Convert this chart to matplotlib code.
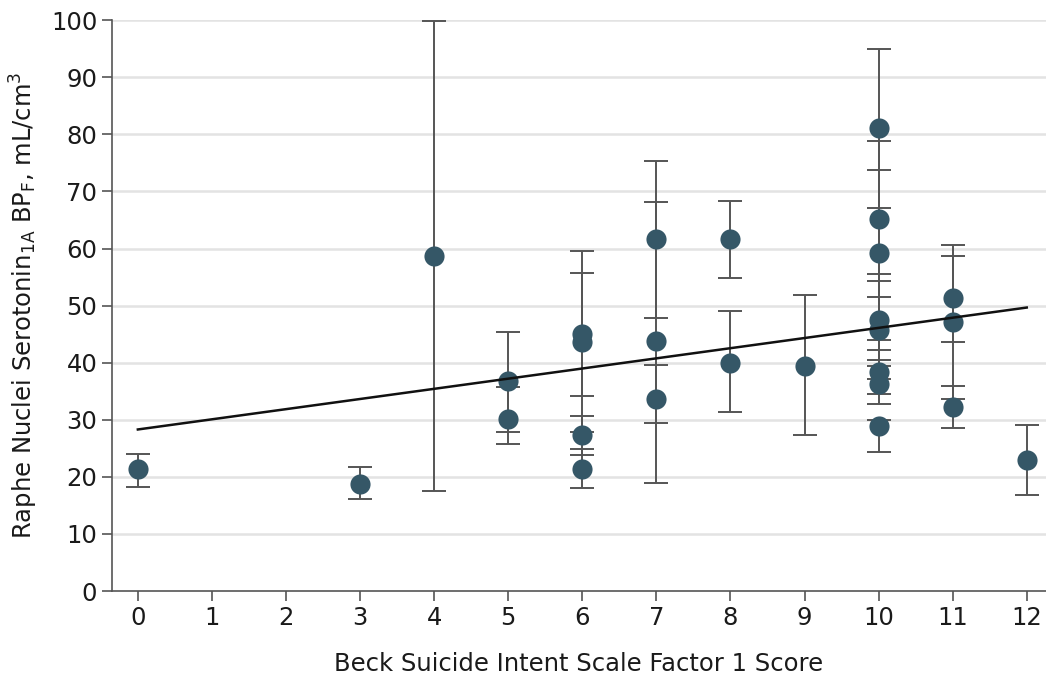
import numpy as np
import matplotlib
matplotlib.use("Agg")
import matplotlib.pyplot as plt

# Beck suicide intent score, raphe BPF and interval bounds
scores = [0, 3, 4, 5, 5, 6, 6, 6, 6, 7, 7, 7, 8, 8, 9,
          10, 10, 10, 10, 10, 10, 10, 10, 11, 11, 11, 12]
bpf = [21.3, 18.7, 58.7, 36.8, 30.2, 45.0, 43.7, 27.4, 21.3, 61.6, 43.8, 33.6, 61.7, 40.0, 39.4,
       81.1, 65.1, 59.2, 47.5, 45.7, 38.4, 36.3, 28.9, 51.3, 47.2, 32.3, 22.9]
lower = [18.3, 16.1, 17.5, 27.9, 25.8, 34.2, 27.8, 23.8, 18.1, 47.9, 18.9, 29.4, 54.8, 31.3, 27.3,
         67.1, 51.5, 44.0, 39.5, 37.1, 34.6, 32.7, 24.4, 43.6, 33.7, 28.6, 16.8]
upper = [24.0, 21.8, 99.8, 45.4, 35.8, 55.7, 59.6, 30.7, 24.8, 75.3, 68.2, 39.6, 68.4, 49.0, 51.8,
         94.9, 78.9, 73.7, 55.5, 54.3, 42.2, 40.5, 30.0, 58.7, 60.7, 35.9, 29.0]

# fitted regression line as drawn
fit_intercept = 28.3
fit_slope = 1.78

x = np.array(scores)
y = np.array(bpf)
yerr = np.vstack([y - np.array(lower), np.array(upper) - y])

plt.rcParams['font.family'] = ['DejaVu Sans']

fig = plt.figure(figsize=(10.46, 6.82), dpi=100)
ax = fig.add_axes([0.107, 0.1334, 0.893, 0.837])

ax.errorbar(x, y, yerr=yerr, fmt='none', ecolor='#555555', elinewidth=1.4,
            capsize=8.3, capthick=1.4, zorder=2)
ax.plot(x, y, 'o', color='#355767', markersize=14.5, markeredgewidth=0, zorder=3)

xl = np.array([0, 12])
ax.plot(xl, fit_intercept + fit_slope * xl, color='#111111', lw=1.8, zorder=4)

ax.set_xlim(-0.35, 12.26)
ax.set_ylim(0, 100)
ax.set_xticks(range(0, 13))
ax.set_yticks(range(0, 101, 10))
for v in range(10, 101, 10):
    ax.axhline(v, color='#e3e3e3', lw=1.8, zorder=0)

for s in ['top', 'right']:
    ax.spines[s].set_visible(False)
for s in ['left', 'bottom']:
    ax.spines[s].set_color('#555555')
    ax.spines[s].set_linewidth(1.2)
ax.tick_params(axis='both', colors='#555555', labelcolor='#1a1a1a',
               labelsize=17.5, length=7, width=1.2)

ax.set_xlabel('Beck Suicide Intent Scale Factor 1 Score', fontsize=17.5,
              color='#1a1a1a', labelpad=16)
ax.set_ylabel(r'Raphe Nuclei Serotonin$_{\mathregular{1A}}$ BP$_{\mathregular{F}}$, mL/cm$^{\mathregular{3}}$',
              fontsize=17.5, color='#1a1a1a', labelpad=8)

fig.savefig('out.png', dpi=100)
